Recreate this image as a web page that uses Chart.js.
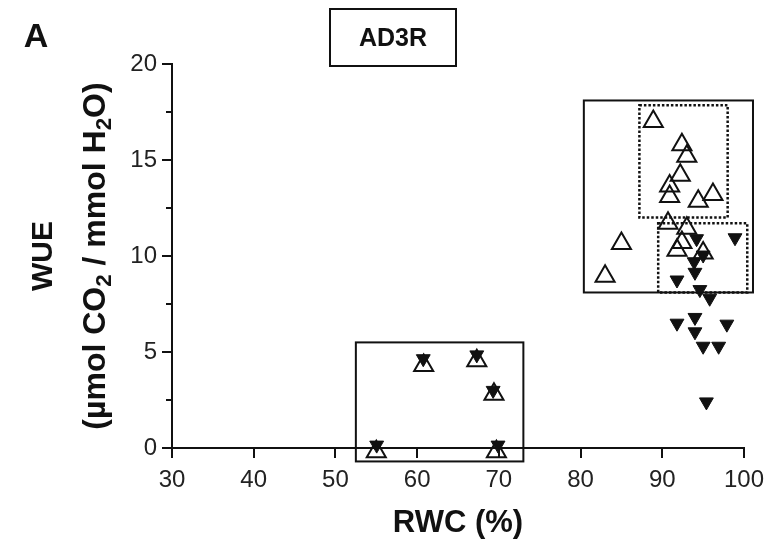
<!DOCTYPE html>
<html>
<head>
<meta charset="utf-8">
<title>AD3R - WUE vs RWC</title>
<script src="https://cdn.jsdelivr.net/npm/chart.js@4.4.1/dist/chart.umd.min.js"></script>
<style>
  body { margin: 0; background: #fff; }
  #wrap { width: 770px; height: 547px; }
</style>
</head>
<body>
<div id="wrap"><canvas id="wue-chart" width="770" height="547"></canvas></div>
<script>
// open triangles (pointing up): RWC (%) and WUE
let openRwc = [88.9, 92.4, 93.0, 92.2, 90.9, 90.9, 94.4, 96.2, 90.7, 93.0, 85.0, 92.4, 91.8, 95.0, 83.0,
               55.0, 60.8, 67.3, 69.4, 69.7];
let openWue = [17.0, 15.8, 15.2, 14.2, 13.65, 13.1, 12.85, 13.2, 11.7, 11.45, 10.65, 10.7, 10.3, 10.15, 8.95,
               -0.2, 4.3, 4.55, 2.8, -0.2];

// filled triangles (pointing down)
let filledRwc = [94.2, 98.9, 95.0, 93.9, 94.0, 91.8, 94.6, 95.8, 91.8, 94.0, 97.9, 94.0, 95.0, 96.9, 95.4,
                 55.05, 60.75, 67.3, 69.3, 69.9];
let filledWue = [10.9, 10.95, 10.05, 9.7, 9.15, 8.75, 8.25, 7.8, 6.5, 6.8, 6.45, 6.05, 5.3, 5.3, 2.4,
                 0.15, 4.65, 4.85, 3.0, 0.15];

let xTicks = [30, 40, 50, 60, 70, 80, 90, 100];
let yTicks = [0, 5, 10, 15, 20];
let yMinorTicks = [2.5, 7.5, 12.5, 17.5];

// group frames: [rwcFrom, rwcTo, wueFrom, wueTo]
let solidBoxes = [[52.5, 73.0, -0.7, 5.5], [80.4, 101.1, 8.1, 18.1]];
let dottedBoxes = [[87.2, 98.0, 12.0, 17.85], [89.5, 100.4, 8.1, 11.7]];

const FONT = "'Liberation Sans', Arial, sans-serif";

function toPoints(xs, ys) {
  return xs.map((x, i) => ({ x: x, y: ys[i] }));
}

// draws text with subscripts along the current baseline
function drawRich(ctx, parts, size) {
  let total = 0;
  parts.forEach(p => {
    ctx.font = 'bold ' + (p[1] ? size * 0.7 : size) + 'px ' + FONT;
    total += ctx.measureText(p[0]).width;
  });
  let x = -total / 2;
  parts.forEach(p => {
    ctx.font = 'bold ' + (p[1] ? size * 0.7 : size) + 'px ' + FONT;
    ctx.fillText(p[0], x, p[1] ? size * 0.28 : 0);
    x += ctx.measureText(p[0]).width;
  });
}

const decorations = {
  id: 'decorations',
  beforeDatasetsDraw(chart) {
    const ctx = chart.ctx, xs = chart.scales.x, ys = chart.scales.y;
    const frame = (b) => {
      const x1 = xs.getPixelForValue(b[0]), x2 = xs.getPixelForValue(b[1]);
      const y1 = ys.getPixelForValue(b[3]), y2 = ys.getPixelForValue(b[2]);
      ctx.strokeRect(x1, y1, x2 - x1, y2 - y1);
    };
    ctx.save();
    ctx.strokeStyle = '#111';
    ctx.lineWidth = 2;
    solidBoxes.forEach(frame);
    ctx.lineWidth = 2.5;
    ctx.setLineDash([2.5, 2]);
    dottedBoxes.forEach(frame);
    ctx.restore();
  },
  afterDraw(chart) {
    const ctx = chart.ctx, ys = chart.scales.y;
    ctx.save();
    // minor ticks on the WUE axis
    ctx.strokeStyle = '#111';
    ctx.lineWidth = 2;
    yMinorTicks.forEach(v => {
      const py = Math.round(ys.getPixelForValue(v));
      ctx.beginPath();
      ctx.moveTo(ys.right - 6, py);
      ctx.lineTo(ys.right, py);
      ctx.stroke();
    });

    // y axis title, two rotated lines
    ctx.fillStyle = '#111';
    ctx.textBaseline = 'middle';
    ctx.textAlign = 'left';
    const cy = (chart.chartArea.top + chart.chartArea.bottom) / 2;
    ctx.save();
    ctx.translate(44, cy);
    ctx.rotate(-Math.PI / 2);
    drawRich(ctx, [['WUE', 0]], 30);
    ctx.restore();
    ctx.save();
    ctx.translate(96, cy);
    ctx.rotate(-Math.PI / 2);
    drawRich(ctx, [['(\u00b5mol CO', 0], ['2', 1], [' / mmol H', 0], ['2', 1], ['O)', 0]], 32);
    ctx.restore();

    // panel letter
    ctx.textAlign = 'center';
    ctx.font = 'bold 34px ' + FONT;
    ctx.fillText('A', 36, 38);

    // boxed title
    ctx.lineWidth = 2;
    ctx.strokeRect(330, 9, 126, 57);
    ctx.font = 'bold 25px ' + FONT;
    ctx.fillText('AD3R', 393, 39);
    ctx.restore();
  }
};

const ctx = document.getElementById('wue-chart').getContext('2d');
const wueChart = new Chart(ctx, {
  type: 'scatter',
  data: {
    datasets: [
      {
        label: 'filled',
        data: toPoints(filledRwc, filledWue),
        pointStyle: 'triangle',
        rotation: 180,
        radius: 8,
        backgroundColor: '#111',
        borderColor: '#111',
        borderWidth: 1,
        clip: false
      },
      {
        label: 'open',
        data: toPoints(openRwc, openWue),
        pointStyle: 'triangle',
        radius: 11,
        backgroundColor: 'rgba(255,255,255,0)',
        borderColor: '#111',
        borderWidth: 2,
        clip: false
      }
    ]
  },
  options: {
    responsive: false,
    animation: false,
    events: [],
    layout: { padding: { top: 64, right: 26, bottom: 0, left: 0 } },
    plugins: {
      legend: { display: false },
      tooltip: { enabled: false },
      title: { display: false }
    },
    scales: {
      x: {
        type: 'linear',
        min: 30,
        max: 100,
        afterBuildTicks: s => { s.ticks = xTicks.map(v => ({ value: v })); },
        afterFit: s => { s.height = 99; s.paddingLeft = 0; s.paddingRight = 0; },
        border: { display: true, color: '#111', width: 2 },
        grid: { drawOnChartArea: false, drawTicks: true, tickLength: 10, color: '#111', lineWidth: 2 },
        ticks: { color: '#222', font: { family: FONT, size: 24 }, padding: 8, maxRotation: 0 },
        title: {
          display: true,
          text: 'RWC (%)',
          color: '#111',
          font: { family: FONT, size: 31, weight: 'bold' },
          padding: { top: 0, bottom: 5 }
        }
      },
      y: {
        type: 'linear',
        min: 0,
        max: 20,
        afterBuildTicks: s => { s.ticks = yTicks.map(v => ({ value: v })); },
        afterFit: s => { s.width = 172; },
        border: { display: true, color: '#111', width: 2 },
        grid: { drawOnChartArea: false, drawTicks: true, tickLength: 10, color: '#111', lineWidth: 2 },
        ticks: { color: '#222', font: { family: FONT, size: 24 }, padding: 5 }
      }
    }
  },
  plugins: [decorations]
});
</script>
</body>
</html>
